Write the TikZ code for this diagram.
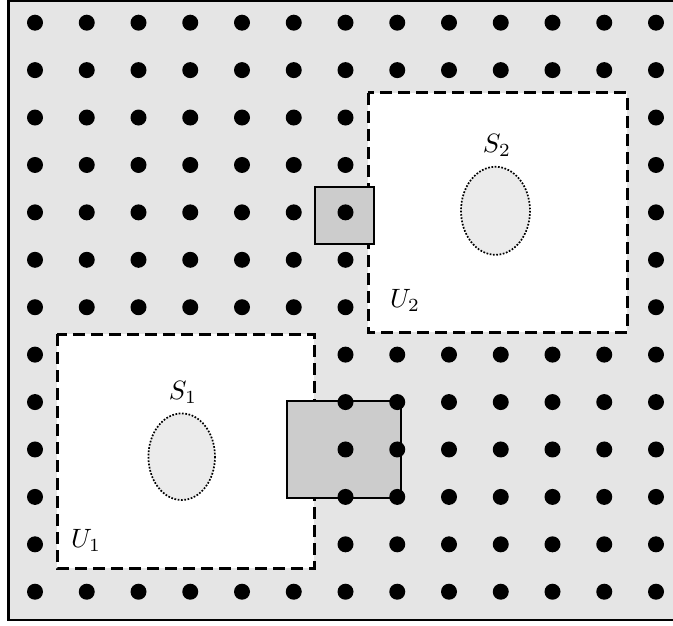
\documentclass[tikz,border=0pt]{standalone}
\definecolor{bgcol}{gray}{0.9}
\definecolor{sqcol}{gray}{0.8}
\definecolor{elcol}{gray}{0.92}
\begin{document}
\begin{tikzpicture}[x=1pt,y=-1pt,
  region/.style={fill=white,draw=black,line width=3pt,dash pattern=on 12pt off 6pt},
  cover/.style={fill=sqcol,draw=black,line width=1.6pt},
  blob/.style={fill=elcol,draw=black,line width=1.7pt,dash pattern=on 1.7pt off 1.6pt},
  lbl/.style={inner sep=0pt,scale=2.65}]
\useasboundingbox (0,0) rectangle (673,626);
\clip (0,0) rectangle (673,626);
% background
\draw[fill=bgcol,line width=2.5pt] (8.7,0.8) rectangle (700,620);
% open sets
\draw[region] (57,334) rectangle (314,568);
\draw[region] (368,93) rectangle (627,332);
% ellipses
\draw[blob] (181.7,456.7) ellipse[x radius=33.3,y radius=43.3];
\draw[blob] (495.5,210.8) ellipse[x radius=34.5,y radius=44];
% squares
\draw[cover] (315,187) rectangle (374,244);
\draw[cover] (287,401) rectangle (401,498);
% dots
\foreach \i in {0,...,12}{\foreach \j in {0,...,12}{
  \pgfmathtruncatemacro\hide{((\i>=1)&&(\i<=5)&&(\j>=7)&&(\j<=11))||((\i>=7)&&(\i<=11)&&(\j>=2)&&(\j<=6)) ? 1 : 0}
  \ifnum\hide=0 \fill ({35+51.75*\i},{22.7+47.42*\j}) circle[radius=8pt]; \fi
}}
% labels
\node[lbl] (s1) at (183,392) {$S_1$};
\node[lbl] (s2) at (497,145) {$S_2$};
\node[lbl] (u1) at (86,540) {$U_1$};
\node[lbl] (u2) at (405,300) {$U_2$};
\end{tikzpicture}
\end{document}
